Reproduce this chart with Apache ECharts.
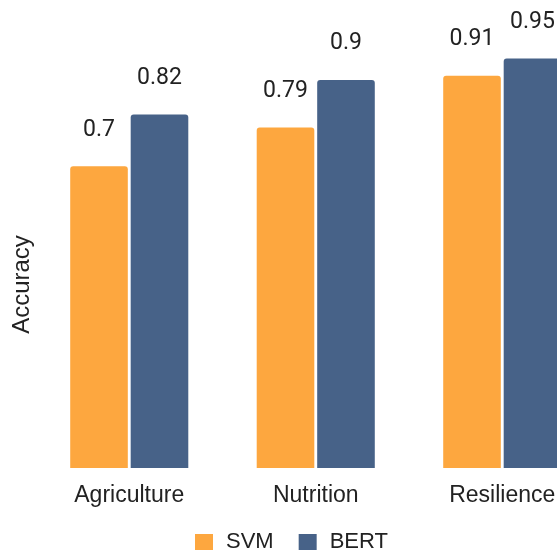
<!DOCTYPE html>
<html>
<head>
<meta charset="utf-8">
<script src="https://cdn.jsdelivr.net/npm/echarts@6/dist/echarts.min.js"></script>
<style>html,body{margin:0;padding:0;background:#fff}#c{width:557px;height:551px}</style>
</head>
<body>
<div id="c"></div>
<script>
const categories = ['Agriculture', 'Nutrition', 'Resilience'];
const seriesNames = ['SVM', 'BERT'];
const svmValues = [0.7, 0.79, 0.91];
const bertValues = [0.82, 0.9, 0.95];

const chart = echarts.init(document.getElementById('c'));
const labelCfg = {
  show: true, position: 'top', distance: 25,
  fontFamily: 'Roboto', fontSize: 23, color: '#222'
};
chart.setOption({
  animation: false,
  backgroundColor: '#fff',
  grid: { left: 36, right: -38.5, top: 37, bottom: 83, containLabel: false, outerBoundsMode: 'none' },
  legend: {
    data: seriesNames, left: 190, top: 526,
    itemWidth: 18, itemHeight: 16, itemGap: 25,
    icon: 'rect',
    textStyle: { fontFamily: 'Liberation Sans', fontSize: 22, color: '#222', padding: [0, 0, 0, 8] }
  },
  xAxis: {
    type: 'category', data: categories,
    axisLine: { show: false }, axisTick: { show: false },
    axisLabel: { fontFamily: 'Liberation Sans', fontSize: 23, color: '#222', margin: 16 }
  },
  yAxis: {
    type: 'value', min: 0, max: 1,
    name: 'Accuracy', nameLocation: 'middle', nameGap: 2,
    nameTextStyle: { fontFamily: 'Liberation Sans', fontSize: 24, color: '#222', padding: [0, 64, 0, 0] },
    axisLine: { show: false }, axisTick: { show: false },
    axisLabel: { show: false }, splitLine: { show: false }
  },
  series: [
    { name: 'SVM', type: 'bar', data: svmValues, barWidth: 57.6, barGap: '5%',
      itemStyle: { color: '#FDA73F', borderRadius: [3, 3, 0, 0] }, label: labelCfg },
    { name: 'BERT', type: 'bar', data: bertValues, barWidth: 57.6, barGap: '5%',
      itemStyle: { color: '#476288', borderRadius: [3, 3, 0, 0] }, label: labelCfg }
  ]
});
</script>
</body>
</html>
